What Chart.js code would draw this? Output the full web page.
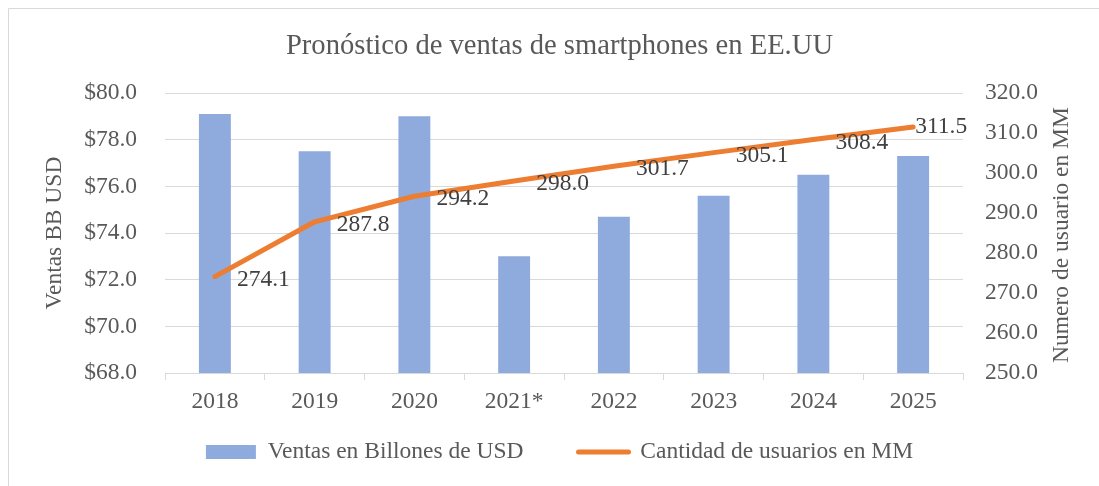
<!DOCTYPE html>
<html>
<head>
<meta charset="utf-8">
<script src="https://cdn.jsdelivr.net/npm/chart.js@4/dist/chart.umd.min.js"></script>
<style>
  html, body { margin: 0; padding: 0; background: #fff; }
  #wrap { width: 1099px; height: 486px; }
</style>
</head>
<body>
<div id="wrap"><canvas id="chart" width="1099" height="486"></canvas></div>
<script>
const years = ['2018', '2019', '2020', '2021*', '2022', '2023', '2024', '2025'];
const ventas = [79.1, 77.5, 79.0, 73.0, 74.7, 75.6, 76.5, 77.3];
const usuarios = [274.1, 287.8, 294.2, 298.0, 301.7, 305.1, 308.4, 311.5];

const serif = '"Liberation Serif", "Times New Roman", serif';
const gris = '#595959';
const lineaGris = '#D9D9D9';

// marco gris del grafico (solo arriba e izquierda quedan dentro de la imagen)
const marco = {
  id: 'marco',
  beforeDraw(chart) {
    const ctx = chart.ctx;
    ctx.save();
    ctx.fillStyle = '#fff';
    ctx.fillRect(0, 0, chart.width, chart.height);
    ctx.strokeStyle = lineaGris;
    ctx.lineWidth = 1;
    ctx.beginPath();
    ctx.moveTo(8.5, chart.height);
    ctx.lineTo(8.5, 8.5);
    ctx.lineTo(chart.width, 8.5);
    ctx.stroke();
    ctx.restore();
  }
};

// la leyenda usa padding 55 para separar los items; se sube para que no quede tan abajo
const subirLeyenda = {
  id: 'subirLeyenda',
  afterLayout(chart) {
    const lg = chart.legend;
    lg.top = 385.25;
    lg.bottom = chart.height;
    lg.height = lg.bottom - lg.top;
  }
};

// etiquetas de la linea, a la derecha de cada punto
const etiquetas = {
  id: 'etiquetas',
  afterDatasetsDraw(chart) {
    const ctx = chart.ctx;
    const meta = chart.getDatasetMeta(1);
    ctx.save();
    ctx.font = '23.5px ' + serif;
    ctx.fillStyle = '#404040';
    ctx.textAlign = 'left';
    ctx.textBaseline = 'middle';
    meta.data.forEach((p, i) => {
      const last = i === meta.data.length - 1;
      ctx.fillText(usuarios[i].toFixed(1), p.x + (last ? 2 : 22), p.y + (last ? 0 : 3));
    });
    ctx.restore();
  }
};

// titulo del eje derecho, leido de abajo hacia arriba
const tituloDerecho = {
  id: 'tituloDerecho',
  afterDraw(chart) {
    const ctx = chart.ctx;
    const area = chart.chartArea;
    ctx.save();
    ctx.translate(1062, (area.top + area.bottom) / 2 + 2);
    ctx.rotate(-Math.PI / 2);
    ctx.font = '23.5px ' + serif;
    ctx.fillStyle = gris;
    ctx.textAlign = 'center';
    ctx.textBaseline = 'middle';
    ctx.fillText('Numero de usuario en MM', 0, 0);
    ctx.restore();
  }
};

new Chart(document.getElementById('chart'), {
  data: {
    labels: years,
    datasets: [
      {
        type: 'bar',
        label: 'Ventas en Billones de USD',
        data: ventas,
        yAxisID: 'y',
        backgroundColor: '#8FAADC',
        borderWidth: 0,
        barPercentage: 0.32,
        categoryPercentage: 1,
        order: 2,
      },
      {
        type: 'line',
        label: 'Cantidad de usuarios en MM',
        data: usuarios,
        yAxisID: 'y1',
        borderColor: '#ED7D31',
        backgroundColor: '#ED7D31',
        borderWidth: 5,
        borderCapStyle: 'round',
        borderJoinStyle: 'round',
        pointRadius: 0,
        tension: 0,
        order: 1,
      },
    ],
  },
  options: {
    responsive: false,
    animation: false,
    events: [],
    layout: { padding: { left: 20, right: 0, top: 0, bottom: 0 } },
    font: { family: serif },
    plugins: {
      title: {
        display: true,
        text: 'Pronóstico de ventas de smartphones en EE.UU',
        color: gris,
        font: { family: serif, size: 28.6, weight: 'normal' },
        padding: { top: 29.8, bottom: 28.9 },
      },
      legend: {
        position: 'bottom',
        maxHeight: 68,
        labels: {
          color: gris,
          font: { family: serif, size: 23.5 },
          usePointStyle: true,
          pointStyleWidth: 50,
          boxHeight: 14,
          padding: 55,
          sort: (a, b) => a.datasetIndex - b.datasetIndex,
          generateLabels(chart) {
            const items = Chart.defaults.plugins.legend.labels.generateLabels(chart);
            return items.map((item) => {
              if (item.datasetIndex === 0) {
                item.pointStyle = 'rect';
                item.lineWidth = 0;
              } else {
                item.pointStyle = 'line';
                item.strokeStyle = '#ED7D31';
                item.lineWidth = 5;
                item.lineCap = 'round';
              }
              return item;
            });
          },
        },
      },
      tooltip: { enabled: false },
    },
    scales: {
      x: {
        offset: true,
        grid: { offset: true, drawOnChartArea: false, color: lineaGris, tickLength: 7 },
        border: { color: lineaGris },
        ticks: { color: gris, font: { family: serif, size: 23.5 }, padding: 8, maxRotation: 0 },
        afterFit(scale) { scale.height = 45; },
      },
      y: {
        position: 'left',
        min: 68,
        max: 80,
        grid: { color: lineaGris, drawTicks: false },
        border: { display: false },
        ticks: {
          stepSize: 2,
          color: gris,
          padding: 28,
          font: { family: serif, size: 23.5 },
          callback: (v) => '$' + Number(v).toFixed(1),
        },
        title: {
          display: true,
          text: 'Ventas BB USD',
          color: gris,
          font: { family: serif, size: 23.5 },
          padding: { top: 21 },
        },
        afterFit(scale) { scale.width = 145; },
      },
      y1: {
        position: 'right',
        min: 250,
        max: 320,
        grid: { drawOnChartArea: false, drawTicks: false },
        border: { display: false },
        ticks: {
          stepSize: 10,
          color: gris,
          padding: 22,
          font: { family: serif, size: 23.5 },
          callback: (v) => Number(v).toFixed(1),
        },
        afterFit(scale) { scale.width = 136; },
      },
    },
  },
  plugins: [marco, subirLeyenda, etiquetas, tituloDerecho],
});
</script>
</body>
</html>
